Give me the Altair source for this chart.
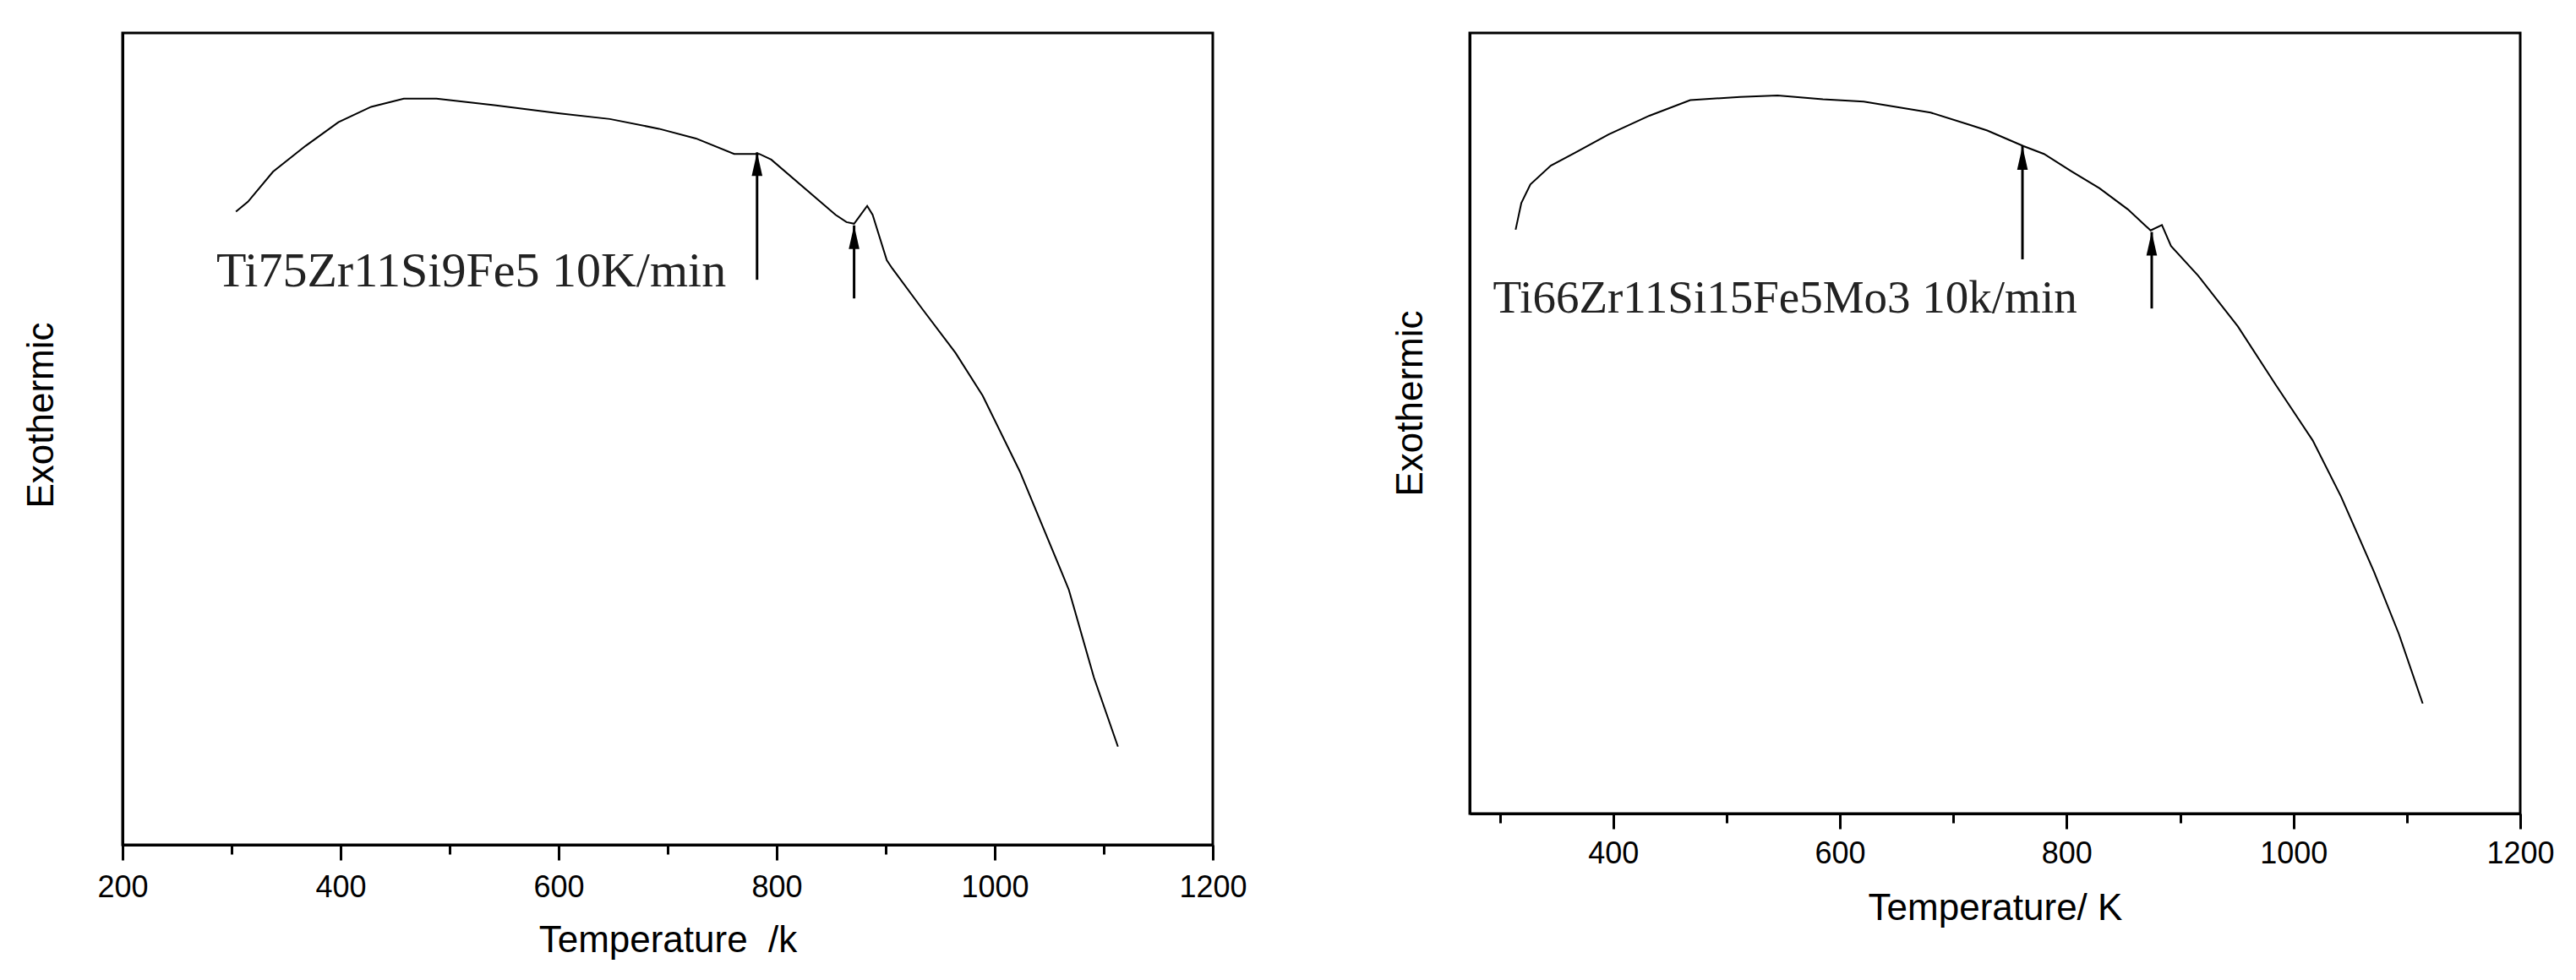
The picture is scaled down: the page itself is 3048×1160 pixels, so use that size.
import altair as alt
import pandas as pd

# ---------------- data ----------------
left_T = [304, 315, 338, 368, 398, 428, 458, 488, 541, 601, 647, 692, 726, 761, 784, 795,
          854, 864, 871, 883, 888, 901, 906, 933, 964, 989, 1023, 1061, 1068, 1091, 1113]
left_E = [0.780, 0.792, 0.829, 0.861, 0.890, 0.909, 0.919, 0.919, 0.911, 0.901, 0.894, 0.882,
          0.870, 0.851, 0.851, 0.844, 0.776, 0.767, 0.765, 0.787, 0.776, 0.720, 0.710, 0.661,
          0.606, 0.553, 0.460, 0.337, 0.314, 0.206, 0.121]

right_T = [314, 319, 327, 345, 367, 396, 432, 468, 512, 545, 585, 621, 655, 680, 715, 730,
           762, 780, 804, 829, 854, 874, 884, 892, 916, 951, 984, 1017, 1042, 1071, 1093, 1114]
right_E = [0.748, 0.782, 0.806, 0.830, 0.847, 0.870, 0.894, 0.914, 0.918, 0.920, 0.915, 0.912,
           0.904, 0.898, 0.882, 0.875, 0.855, 0.845, 0.823, 0.801, 0.774, 0.747, 0.754, 0.727,
           0.689, 0.624, 0.550, 0.478, 0.406, 0.310, 0.230, 0.141]

left_arrow_T = [782, 871]
left_arrow_base = [0.696, 0.673]
left_arrow_tip = [0.853, 0.763]

right_arrow_T = [761, 875]
right_arrow_base = [0.710, 0.647]
right_arrow_tip = [0.855, 0.745]

left_label = ["Ti75Zr11Si9Fe5 10K/min"]
left_label_T = [286]
left_label_E = [0.688]

right_label = ["Ti66Zr11Si15Fe5Mo3 10k/min"]
right_label_T = [294]
right_label_E = [0.642]

left_ticks = [200, 300, 400, 500, 600, 700, 800, 900, 1000, 1100, 1200]
right_ticks = [300, 400, 500, 600, 700, 800, 900, 1000, 1100, 1200]

left_xtitle = "Temperature\u00a0 /k"
right_xtitle = "Temperature/ K"
ytitle = "Exothermic"


def panel(T, E, aT, aB, aTip, lab, labT, labE, font_size, xdom, ticks, w, h,
          xtitle, ytx, yty, xty, lpad):
    xs = alt.Scale(domain=xdom, nice=False, zero=False)
    ys = alt.Scale(domain=[0, 1], nice=False, zero=False)
    xaxis = alt.Axis(
        values=ticks, title=xtitle, format="d", grid=False,
        tickSize={"condition": {"test": "datum.value % 200 != 0", "value": 11}, "value": 18},
        tickWidth=3, tickColor="black",
        labelExpr="datum.value % 200 == 0 ? datum.label : ''",
        labelFlush=False, labelOverlap=False, labelBaseline="middle", labelPadding=lpad,
        labelFont="Liberation Sans", labelFontSize=36, labelColor="black",
        titleFont="Liberation Sans", titleFontSize=44, titleFontWeight="normal",
        titleColor="black", titleY=xty, titleBaseline="middle",
        domainColor="black", domainWidth=3,
    )
    yaxis = alt.Axis(
        title=ytitle, ticks=False, labels=False, grid=False,
        titleFont="Liberation Sans", titleFontSize=44, titleFontWeight="normal",
        titleColor="black", titleX=ytx, titleY=yty, titleBaseline="middle",
        domainColor="black", domainWidth=3,
    )
    X = alt.X("T:Q", scale=xs, axis=xaxis)
    Y = alt.Y("E:Q", scale=ys, axis=yaxis)

    curve = pd.DataFrame({"T": T, "E": E})
    arrows = pd.DataFrame({"T": aT, "E": aB, "E2": aTip})
    heads = pd.DataFrame({"T": aT, "E": aTip})
    text = pd.DataFrame({"T": labT, "E": labE, "label": lab})

    line = alt.Chart(curve).mark_line(color="black", strokeWidth=2).encode(x=X, y=Y)
    shafts = alt.Chart(arrows).mark_rule(color="black", strokeWidth=3).encode(
        x=X, y=Y, y2=alt.Y2("E2:Q"))
    tips = alt.Chart(heads).mark_point(
        shape="M0,0L0.45,2L-0.45,2Z", filled=True, size=784, color="black", opacity=1,
        strokeWidth=0).encode(x=X, y=Y)
    txt = alt.Chart(text).mark_text(
        align="left", baseline="alphabetic", font="Liberation Serif",
        fontSize=font_size, color="#222222").encode(x=X, y=Y, text="label:N")
    return alt.layer(line, shafts, tips, txt).properties(width=w, height=h)


left = panel(left_T, left_E, left_arrow_T, left_arrow_base, left_arrow_tip,
             left_label, left_label_T, left_label_E, 58, [200, 1200], left_ticks,
             1290, 961, left_xtitle, -96, 452, 113, 32)
right = panel(right_T, right_E, right_arrow_T, right_arrow_base, right_arrow_tip,
              right_label, right_label_T, right_label_E, 55, [273.5, 1200], right_ticks,
              1243, 924, right_xtitle, -70, 438, 112, 29)

chart = alt.hconcat(left, right, spacing=168).properties(
    padding={"left": 17, "top": 29, "right": 0, "bottom": 0},
    background="white",
).configure_view(stroke="black", strokeWidth=3)

chart.save("out.html", embed_options={"renderer": "svg", "actions": False})
